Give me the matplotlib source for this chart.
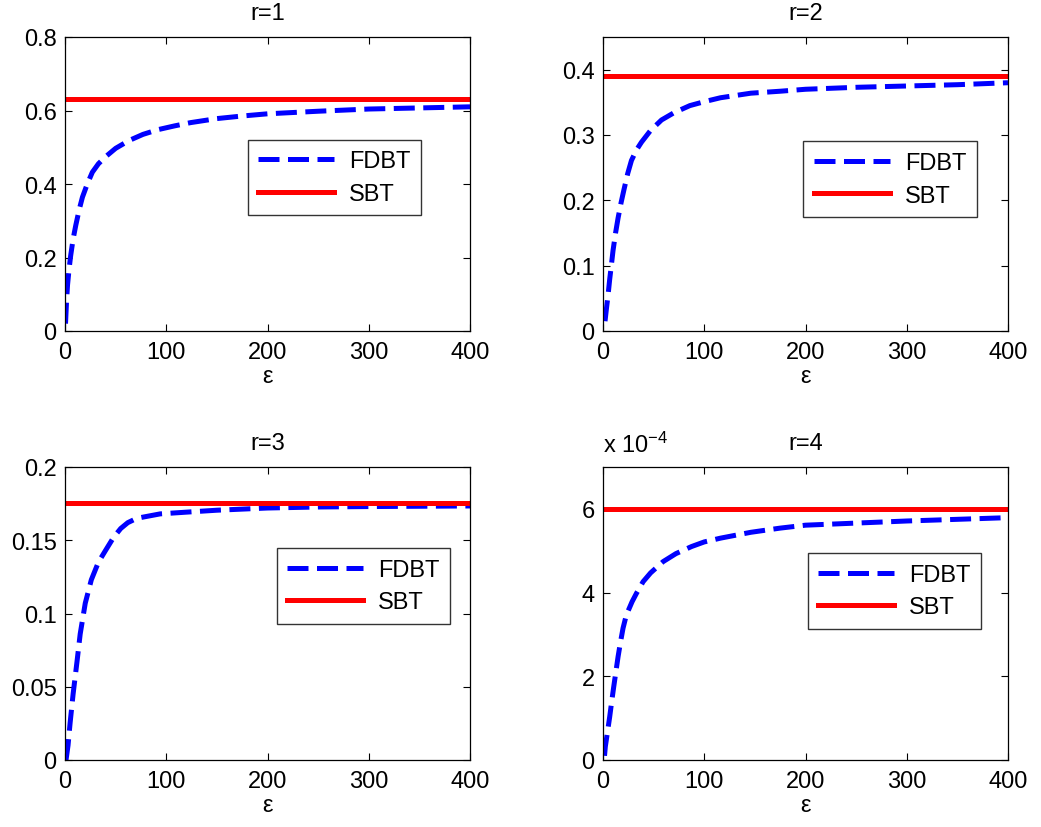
import matplotlib
matplotlib.use("Agg")
import matplotlib.pyplot as plt

plt.rcParams['font.family'] = ['Liberation Sans', 'DejaVu Sans']
plt.rcParams['mathtext.fontset'] = 'custom'
plt.rcParams['mathtext.rm'] = 'Liberation Sans'
plt.rcParams['mathtext.it'] = 'Liberation Sans'

# FDBT curves for each r (epsilon on x)
eps_r1 = [0.5, 1.5, 2.5, 4, 5.6, 8, 10.6, 14, 17.2, 22, 27, 33, 40, 50, 63, 77, 92, 108,
          124, 150, 175, 200, 250, 300, 350, 400]
fdbt_r1 = [0.02, 0.08, 0.125, 0.168, 0.205, 0.25, 0.287, 0.33, 0.364, 0.40, 0.432, 0.455,
           0.474, 0.497, 0.518, 0.535, 0.548, 0.558, 0.567, 0.578, 0.585, 0.591, 0.598,
           0.604, 0.607, 0.610]

eps_r2 = [2, 3.3, 5, 6.6, 8.2, 9.9, 12.4, 14.9, 17.8, 20.8, 24.4, 28.1, 33, 38, 47, 57.8,
          70, 85.8, 100, 116, 146, 175, 200, 250, 300, 350, 400]
fdbt_r2 = [0.015, 0.033, 0.055, 0.079, 0.10, 0.123, 0.15, 0.173, 0.196, 0.217, 0.241,
           0.261, 0.277, 0.289, 0.307, 0.323, 0.334, 0.345, 0.351, 0.357, 0.364, 0.367,
           0.370, 0.373, 0.375, 0.377, 0.380]

eps_r3 = [1, 3, 5, 8, 12, 15, 20, 26, 33, 40, 48, 55, 62, 71, 94, 127, 150, 200, 250, 300,
          350, 400]
fdbt_r3 = [0.0, 0.01, 0.025, 0.045, 0.068, 0.086, 0.107, 0.123, 0.135, 0.143, 0.152, 0.158,
           0.162, 0.165, 0.168, 0.1695, 0.1705, 0.172, 0.1727, 0.173, 0.1732, 0.1734]

eps_r4 = [1.5, 2.3, 4.5, 6.6, 8.6, 10.6, 12.8, 14.9, 17.3, 19.8, 23, 28.7, 33, 39.6, 47,
          59.4, 72, 87.5, 100, 116, 146, 175, 200, 250, 300, 350, 400]
fdbt_r4_e4 = [0.1, 0.32, 0.68, 1.03, 1.40, 1.75, 2.12, 2.47, 2.82, 3.15, 3.46, 3.78, 3.98,
              4.26, 4.47, 4.74, 4.93, 5.10, 5.21, 5.30, 5.44, 5.54, 5.61, 5.66, 5.71,
              5.75, 5.79]   # in units of 1e-4

# SBT constant levels
sbt_levels = [0.632, 0.391, 0.1755, 6.0]      # last one in units of 1e-4

titles = ['r=1', 'r=2', 'r=3', 'r=4']
ylims = [(0, 0.8), (0, 0.45), (0, 0.2), (0, 7)]
yticks = [[0, 0.2, 0.4, 0.6, 0.8], [0, 0.1, 0.2, 0.3, 0.4],
          [0, 0.05, 0.1, 0.15, 0.2], [0, 2, 4, 6]]
ytick_labels = [['0', '0.2', '0.4', '0.6', '0.8'], ['0', '0.1', '0.2', '0.3', '0.4'],
                ['0', '0.05', '0.1', '0.15', '0.2'], ['0', '2', '4', '6']]
xticks = [0, 100, 200, 300, 400]
eps_range = [0, 400]

curves = [(eps_r1, fdbt_r1), (eps_r2, fdbt_r2), (eps_r3, fdbt_r3), (eps_r4, fdbt_r4_e4)]

W, H = 1041, 828
fig = plt.figure(figsize=(W / 100, H / 100), dpi=100)

# axes boxes in pixels: left, top, right, bottom
boxes = [(65, 38, 470, 332), (603, 38, 1008, 332),
         (65, 468, 470, 761), (603, 468, 1008, 761)]
# legend anchor (upper-left corner) in axes fraction
leg_anchor = [(0.451, 0.651), (0.495, 0.645), (0.523, 0.723), (0.505, 0.706)]

FS = 17
for i in range(4):
    l, t, r, b = boxes[i]
    ax = fig.add_axes([l / W, 1 - b / H, (r - l) / W, (b - t) / H])
    x, y = curves[i]
    ax.plot(x, y, color='#0000ff', lw=3.6, linestyle=(0, (4.2, 1.7)),
            dash_capstyle='butt', solid_joinstyle='round', label='FDBT')
    ax.plot(eps_range, [sbt_levels[i]] * 2, color='#ff0000', lw=3.6, label='SBT')
    ax.set_xlim(eps_range)
    ax.set_ylim(ylims[i])
    ax.set_xticks(xticks)
    ax.set_xticklabels([str(v) for v in xticks])
    ax.set_yticks(yticks[i])
    ax.set_yticklabels(ytick_labels[i])
    ax.tick_params(direction='in', top=True, right=True, length=5, width=0.8,
                   labelsize=FS)
    ax.tick_params(axis='x', pad=7)
    ax.tick_params(axis='y', pad=6)
    for s in ax.spines.values():
        s.set_linewidth(0.9)
    ax.set_title(titles[i], fontsize=FS, pad=13)
    ax.set_xlabel('ε', fontsize=FS, labelpad=2)
    leg = ax.legend(loc='upper left', bbox_to_anchor=leg_anchor[i], fontsize=FS,
                    handlelength=3.2, handletextpad=0.65, borderpad=0.45,
                    labelspacing=0.45, frameon=True, fancybox=False,
                    borderaxespad=0.0)
    leg.get_frame().set_edgecolor('black')
    leg.get_frame().set_linewidth(1.0)
    if i == 3:
        ax.text(0.0, 1.035, r'x 10$^{-4}$', transform=ax.transAxes,
                fontsize=FS, ha='left', va='bottom')

fig.savefig('out.png', dpi=100)
